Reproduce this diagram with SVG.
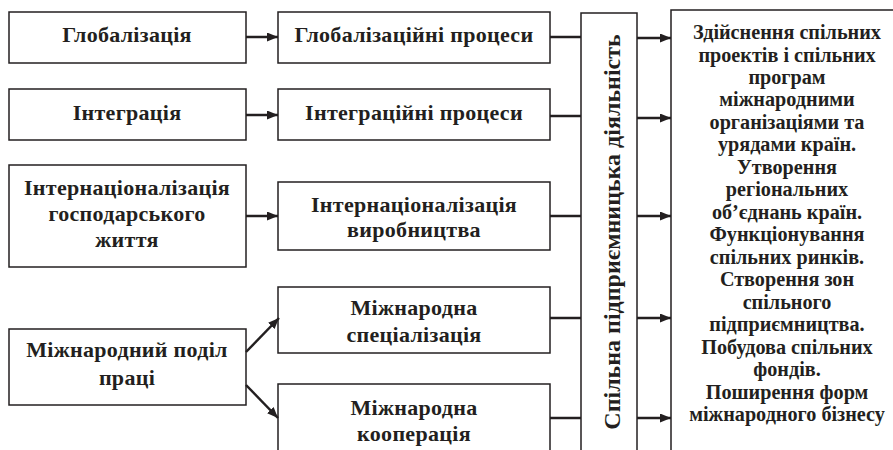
<svg xmlns="http://www.w3.org/2000/svg" width="893" height="450" viewBox="0 0 893 450">
<style>
.box{fill:#fff;stroke:#231f20;stroke-width:1.5}
.t{font-family:"Liberation Serif","Times New Roman","DejaVu Serif",serif;font-weight:bold;fill:#231f20;text-anchor:middle}
.m{font-size:22px;letter-spacing:0.3px}
.r{font-size:20.2px}
.v{font-size:24px}
.c{stroke:#231f20;stroke-width:2.5;fill:none}
</style>
<defs>
<marker id="ah" viewBox="0 0 11 9" refX="11" refY="4.5" markerWidth="11" markerHeight="9" markerUnits="userSpaceOnUse" orient="auto">
<path d="M0,0 L11,4.5 L0,9 Z" fill="#231f20"/>
</marker>
</defs>
<rect width="893" height="450" fill="#fff"/>
<g id="n-glob"><rect class="box" x="9" y="12" width="237" height="51"/><text class="t m" x="127" y="42">Глобалізація</text></g>
<g id="n-integr"><rect class="box" x="9" y="89" width="237" height="51"/><text class="t m" x="127" y="120">Інтеграція</text></g>
<g id="n-intern"><rect class="box" x="9" y="165" width="237" height="102"/><text class="t m" x="127" y="195">Інтернаціоналізація</text><text class="t m" x="127" y="221">господарського</text><text class="t m" x="127" y="247">життя</text></g>
<g id="n-podil"><rect class="box" x="9" y="329" width="237" height="76"/><text class="t m" x="127" y="357">Міжнародний поділ</text><text class="t m" x="127" y="385">праці</text></g>
<g id="n-globp"><rect class="box" x="278" y="12" width="272" height="51"/><text class="t m" x="414" y="42">Глобалізаційні процеси</text></g>
<g id="n-integrp"><rect class="box" x="278" y="89" width="272" height="51"/><text class="t m" x="414" y="120">Інтеграційні процеси</text></g>
<g id="n-virob"><rect class="box" x="278" y="182" width="272" height="68"/><text class="t m" x="414" y="212">Інтернаціоналізація</text><text class="t m" x="414" y="237">виробництва</text></g>
<g id="n-spec"><rect class="box" x="278" y="287" width="272" height="66"/><text class="t m" x="414" y="315">Міжнародна</text><text class="t m" x="414" y="342">спеціалізація</text></g>
<g id="n-koop"><rect class="box" x="278" y="384" width="272" height="80"/><text class="t m" x="414" y="415">Міжнародна</text><text class="t m" x="414" y="441">кооперація</text></g>
<g id="n-bar"><rect class="box" x="581" y="13" width="56" height="460"/><text class="t v" transform="translate(620,232) rotate(-90)" x="0" y="0">Спільна підприємницька діяльність</text></g>
<g id="n-right"><rect class="box" x="671" y="10" width="240" height="460"/>
<text class="t r" x="787" y="39">Здійснення спільних</text>
<text class="t r" x="787" y="61.5">проектів і спільних</text>
<text class="t r" x="787" y="84">програм</text>
<text class="t r" x="787" y="106.4">міжнародними</text>
<text class="t r" x="787" y="128.9">організаціями та</text>
<text class="t r" x="787" y="151.4">урядами країн.</text>
<text class="t r" x="787" y="173.8">Утворення</text>
<text class="t r" x="787" y="196.3">регіональних</text>
<text class="t r" x="787" y="218.8">об’єднань країн.</text>
<text class="t r" x="787" y="241.2">Функціонування</text>
<text class="t r" x="787" y="263.7">спільних ринків.</text>
<text class="t r" x="787" y="286.2">Створення зон</text>
<text class="t r" x="787" y="308.6">спільного</text>
<text class="t r" x="787" y="331.1">підприємництва.</text>
<text class="t r" x="787" y="353.6">Побудова спільних</text>
<text class="t r" x="787" y="376">фондів.</text>
<text class="t r" x="787" y="398.5">Поширення форм</text>
<text class="t r" x="787" y="421">міжнародного бізнесу</text>
</g>
<g id="connectors">
<line class="c" x1="246" y1="37" x2="278" y2="37" marker-end="url(#ah)"/>
<line class="c" x1="246" y1="115" x2="278" y2="115" marker-end="url(#ah)"/>
<line class="c" x1="246" y1="216" x2="278" y2="216" marker-end="url(#ah)"/>
<line class="c" x1="246" y1="352" x2="279" y2="318" marker-end="url(#ah)"/>
<line class="c" x1="246" y1="385" x2="278" y2="418" marker-end="url(#ah)"/>
<line class="c" x1="550" y1="37" x2="581" y2="37"/>
<line class="c" x1="550" y1="116" x2="581" y2="116"/>
<line class="c" x1="550" y1="216" x2="581" y2="216"/>
<line class="c" x1="550" y1="318" x2="581" y2="318"/>
<line class="c" x1="550" y1="418" x2="581" y2="418"/>
<line class="c" x1="637" y1="38" x2="671" y2="38" marker-end="url(#ah)"/>
<line class="c" x1="637" y1="118" x2="671" y2="118" marker-end="url(#ah)"/>
<line class="c" x1="637" y1="216" x2="671" y2="216" marker-end="url(#ah)"/>
<line class="c" x1="637" y1="318" x2="671" y2="318" marker-end="url(#ah)"/>
<line class="c" x1="637" y1="418" x2="671" y2="418" marker-end="url(#ah)"/>
</g>
</svg>
